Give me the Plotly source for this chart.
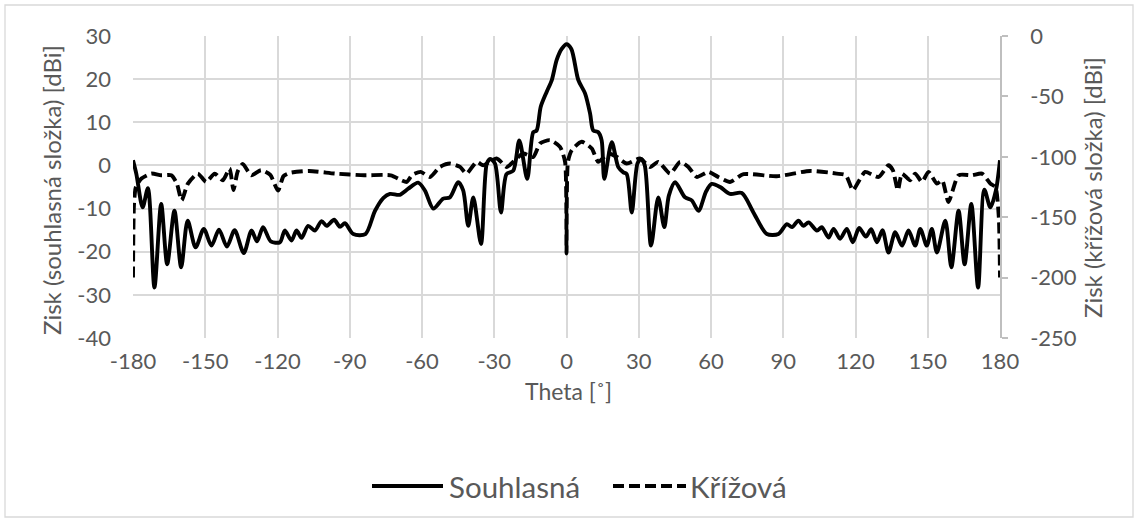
import plotly.graph_objects as go

# Co-polar gain (left axis, dBi) sampled at its turning points
theta_co = [
    -180, -178.6, -176, -173.8, -171.1, -168.3, -165.8, -162.8, -160, -157.3,
    -154.0, -150.6, -147.4, -144.3, -141.0, -137.8, -134.0, -130.8, -128.5, -126.0,
    -122.8, -119.0, -117.0, -114.2, -112.1, -110.0, -107.3, -104.5, -101.7, -99.6,
    -96.5, -94.1, -92.0, -88.5, -83.5, -79.5, -76.0, -73.3, -69.2, -65.7,
    -61.6, -58.8, -55.3, -51.2, -48.4, -45.0, -42.9, -40.8, -38.7, -35.5,
    -33.1, -31.7, -29.7, -27.2, -24.9, -22.1, -19.6, -16.3, -13.8, -12.4,
    -10.7, -8.2, -6.1, -4.1, -2.0, 0.0, 2.0, 4.9, 7.7, 9.8,
    11.1, 13.2, 14.6, 15.7, 18.8, 21.5, 23.6, 25.0, 27.1, 29.5,
    31.0, 32.5, 35.1, 38.1, 40.6, 42.5, 45.1, 49.2, 52.0, 54.8,
    58.0, 60.3, 63.8, 67.9, 72.8, 77.6, 83.2, 88.0, 91.5, 93.6,
    96.3, 98.4, 100.5, 104.0, 106.0, 108.8, 110.9, 113.6, 116.4, 118.9,
    121.5, 124.3, 126.5, 128.9, 131.2, 133.7, 136.5, 139.3, 142.0, 144.8,
    146.9, 149.6, 151.7, 153.8, 157.3, 159.8, 162.8, 165.3, 168.1, 170.9,
    173.5, 176.0, 178.3, 180,
]
gain_co = [
    1.2, -2.0, -9.7, -5.3, -28.3, -8.9, -22.9, -10.5, -23.6, -12.8,
    -19.0, -14.7, -18.6, -14.9, -18.8, -15.0, -20.3, -15.1, -17.6, -14.3,
    -17.6, -17.8, -15.1, -17.4, -15.1, -16.8, -14.0, -15.1, -12.9, -14.0,
    -12.6, -14.2, -13.4, -15.9, -15.9, -10.5, -7.5, -6.6, -6.8, -5.4,
    -4.0, -5.8, -10.0, -7.7, -7.4, -3.9, -5.8, -14.0, -7.4, -18.2,
    0.4, 1.5, 0.4, -10.9, -2.0, -1.2, 5.8, -3.1, 7.7, 8.1,
    13.6, 17.1, 19.8, 24.4, 27.0, 28.1, 27.0, 19.8, 16.7, 12.0,
    8.1, 7.7, 5.8, -3.1, 5.4, -0.4, -1.6, -2.0, -10.9, 0.5,
    1.5, 0.0, -18.6, -7.4, -14.3, -7.0, -3.9, -7.4, -8.1, -10.5,
    -6.0, -4.3, -5.0, -6.6, -6.4, -10.9, -15.9, -15.9, -13.6, -14.3,
    -12.8, -14.0, -13.2, -15.1, -14.3, -16.7, -14.7, -17.0, -14.7, -17.8,
    -14.5, -16.5, -14.8, -17.8, -15.0, -20.2, -15.5, -18.6, -15.1, -18.6,
    -14.7, -18.6, -14.7, -20.2, -12.8, -23.6, -10.5, -22.9, -8.9, -28.3,
    -5.6, -9.7, -5.8, 1.2,
]

# Cross-polar gain (right axis, dBi)
theta_x = [
    -180, -179.6, -178.8, -176.5, -172.4, -168.3, -164.1, -161.8, -159.8, -157.2,
    -153.1, -149.6, -146.1, -142.7, -139.9, -138.3, -136.5, -134.4, -130.9, -126.8,
    -123.0, -119.8, -117.5, -115.0, -107.0, -96.0, -84.0, -73.0, -68.5, -66.4,
    -64.0, -60.5, -56.7, -52.6, -48.4, -44.2, -41.5, -37.3, -34.6, -29.0,
    -24.8, -22.1, -18.0, -13.8, -11.0, -6.9, -2.7, -0.6, 0.0, 0.6,
    2.2, 6.3, 10.5, 13.2, 17.4, 20.9, 25.0, 30.5, 34.7, 38.1,
    43.0, 47.2, 50.6, 54.1, 58.9, 63.0, 67.9, 73.5, 87.3, 101.2,
    112.2, 116.0, 118.9, 121.2, 124.0, 129.6, 133.7, 135.5, 137.6, 139.3,
    142.7, 144.8, 147.6, 150.3, 153.8, 156.0, 158.6, 162.8, 168.3, 172.5,
    176.0, 178.1, 179.5, 180,
]
gain_x = [
    -200, -140, -125, -118, -113.9, -115.3, -115.3, -122, -136, -122.2,
    -113.9, -120.8, -113.9, -119.4, -109.7, -127.5, -112, -106, -115.3, -111.1,
    -115, -128, -116, -113.4, -111.7, -113.9, -115.3, -115.3, -119.4, -120.8,
    -115, -112.5, -116.7, -108.4, -105.6, -108.4, -113.9, -104.2, -107, -101.4,
    -108.4, -104.2, -97.3, -100.1, -89, -86.2, -91.8, -104.2, -180, -104.2,
    -94.5, -87.6, -93.1, -104.2, -97.3, -100.1, -105.6, -101.4, -108.4, -104.2,
    -113.9, -104.2, -108.4, -116.7, -112.5, -116.7, -120.8, -114.4, -116.1, -111.7,
    -113.9, -115.3, -127.7, -120.8, -112.5, -116.7, -107, -111, -127.7, -113.9,
    -119.4, -113.9, -120.8, -112.5, -122.2, -119.4, -137.4, -115.3, -115.3, -113.9,
    -122.2, -125, -150, -200,
]

x_ticks = list(range(-180, 181, 30))
y_left_ticks = list(range(-40, 31, 10))
y_right_ticks = list(range(-250, 1, 50))

W, H = 1138, 522
L, R, T, B = 133, 138, 36, 184
PW, PH = W - L - R, H - T - B

TEXT = "#595959"
GRID = "#d9d9d9"
FONT = "Lato"
LW = 3.9


def px(x):
    return (x - L) / PW


def py(y):
    return (H - B - y) / PH


fig = go.Figure()
fig.add_trace(go.Scatter(
    x=theta_co, y=gain_co, name="Souhlasná", mode="lines",
    line=dict(color="black", width=LW, shape="spline", smoothing=0.8),
    yaxis="y", showlegend=False,
))
fig.add_trace(go.Scatter(
    x=theta_x, y=gain_x, name="Křížová", mode="lines",
    line=dict(color="black", width=LW, dash="11px,5px", shape="spline", smoothing=0.6),
    yaxis="y2", showlegend=False,
))

fig.update_layout(
    width=W, height=H, autosize=False,
    margin=dict(l=L, r=R, t=T, b=B),
    paper_bgcolor="white", plot_bgcolor="white",
    font=dict(family=FONT, color=TEXT, size=22),
    xaxis=dict(
        range=[-180, 180], tickvals=x_ticks, ticktext=[str(v) for v in x_ticks],
        showgrid=True, gridcolor=GRID, gridwidth=1.5, zeroline=False,
        showline=False, ticks="", ticklabelstandoff=8,
        tickfont=dict(size=22, color=TEXT),
    ),
    yaxis=dict(
        range=[-40, 30], tickvals=y_left_ticks, ticktext=[str(v) for v in y_left_ticks],
        showgrid=True, gridcolor=GRID, gridwidth=1.5, zeroline=False,
        showline=False, ticks="", ticklabelstandoff=21,
        tickfont=dict(size=22, color=TEXT),
    ),
    yaxis2=dict(
        range=[-250, 0], tickvals=y_right_ticks, ticktext=[str(v) for v in y_right_ticks],
        overlaying="y", side="right", showgrid=False, zeroline=False,
        showline=True, linecolor="#bfbfbf", linewidth=1.5,
        ticks="outside", ticklen=6, tickcolor="#bfbfbf", tickwidth=1.5,
        ticklabelstandoff=18, tickfont=dict(size=22, color=TEXT),
    ),
)

annotations = [
    dict(text="Zisk (souhlasná složka) [dBi]", x=px(52), y=py(190), textangle=-90,
         font=dict(size=24, color=TEXT)),
    dict(text="Zisk (křížová složka) [dBi]", x=px(1092), y=py(188), textangle=-90,
         font=dict(size=24, color=TEXT)),
    dict(text="Theta [˚]", x=px(568), y=py(391), font=dict(size=23, color=TEXT)),
    dict(text="Souhlasná", x=px(447), y=py(486), xanchor="left",
         font=dict(size=29.5, color=TEXT)),
    dict(text="Křížová", x=px(688), y=py(486), xanchor="left",
         font=dict(size=29.5, color=TEXT)),
]
for a in annotations:
    a.update(xref="paper", yref="paper", showarrow=False)
    a.setdefault("xanchor", "center")
    a["yanchor"] = "middle"
fig.update_layout(annotations=annotations)

shapes = [
    # legend samples
    dict(type="line", x0=px(372), x1=px(443), y0=py(486), y1=py(486),
         line=dict(color="black", width=LW)),
    dict(type="line", x0=px(613), x1=px(686), y0=py(486), y1=py(486),
         line=dict(color="black", width=LW, dash="11px,5px")),
    # chart area border
    dict(type="rect", x0=px(5), x1=px(1133), y0=py(5), y1=py(517),
         line=dict(color=GRID, width=1.3)),
]
for s in shapes:
    s.update(xref="paper", yref="paper", layer="below")
fig.update_layout(shapes=shapes)

fig.write_html("out.html")
